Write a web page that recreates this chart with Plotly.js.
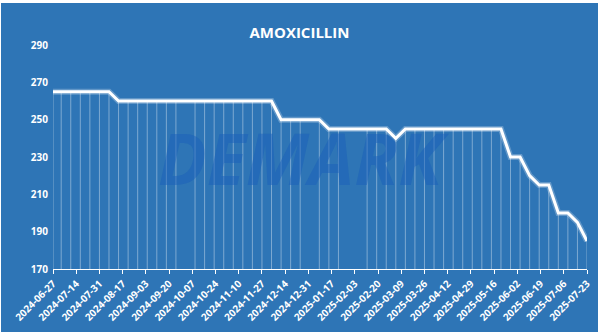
<!DOCTYPE html>
<html>
<head>
<meta charset="utf-8">
<script src="https://cdn.plot.ly/plotly-3.0.1.min.js"></script>
<style>
html,body{margin:0;padding:0;background:#ffffff;width:600px;height:334px;overflow:hidden;}
#chart{position:absolute;left:1px;top:3px;width:597px;height:329px;}
</style>
</head>
<body>
<div id="chart"></div>
<script>
const dates = [
 "2024-06-27","2024-07-03","2024-07-10","2024-07-17","2024-07-24","2024-07-31","2024-08-07",
 "2024-08-14","2024-08-21","2024-08-28","2024-09-04","2024-09-11","2024-09-18","2024-09-25",
 "2024-10-09","2024-10-16","2024-10-23","2024-10-30","2024-11-06","2024-11-13","2024-11-20",
 "2024-11-27","2024-12-04","2024-12-11","2024-12-18","2024-12-25","2025-01-08","2025-01-15",
 "2025-01-22","2025-02-12","2025-02-19","2025-02-26","2025-03-05","2025-03-12","2025-03-19",
 "2025-03-26","2025-04-02","2025-04-09","2025-04-16","2025-04-23","2025-04-30","2025-05-07",
 "2025-05-14","2025-05-21","2025-05-28","2025-06-04","2025-06-11","2025-06-18","2025-06-25",
 "2025-07-02","2025-07-09","2025-07-16","2025-07-23"
];
const prices = [
 265,265,265,265,265,265,265,
 260,260,260,260,260,260,260,
 260,260,260,260,260,260,260,
 260,260,250,250,250,250,245,
 245,245,245,245,240,245,245,
 245,245,245,245,245,245,245,
 245,245,230,230,220,215,215,
 200,200,195,185
];
const chartTitle = "AMOXICILLIN";
const yMin = 170, yMax = 290, yStep = 20;
const xStart = "2024-06-27", xEnd = "2025-07-23", tickDays = 17;

const dropTrace = {
  x: dates, y: prices, type: "scatter", mode: "markers",
  marker: {size: 0.1, color: "rgba(0,0,0,0)"},
  error_y: {type: "data", symmetric: false,
    array: prices.map(() => 0),
    arrayminus: prices.map(v => v - yMin),
    color: "rgba(255,255,255,0.38)", thickness: 1, width: 0},
  hoverinfo: "skip", showlegend: false
};
const haloTrace = {
  x: dates, y: prices, type: "scatter", mode: "lines",
  line: {color: "rgba(255,255,255,0.25)", width: 6},
  hoverinfo: "skip", showlegend: false
};
const lineTrace = {
  x: dates, y: prices, type: "scatter", mode: "lines",
  line: {color: "#ffffff", width: 3},
  showlegend: false
};

const layout = {
  width: 597, height: 329,
  paper_bgcolor: "#2E75B6", plot_bgcolor: "rgba(0,0,0,0)",
  margin: {l: 52, r: 11, t: 42, b: 63},
  title: {text: "<b>" + chartTitle + "</b>", x: 0.5, xanchor: "center", y: 0.91, yanchor: "middle",
    font: {family: "Open Sans, sans-serif", size: 15, color: "#ffffff"}},
  xaxis: {
    type: "date", range: [xStart, xEnd],
    tick0: xStart, dtick: tickDays * 86400000,
    tickformat: "%Y-%m-%d", tickangle: -45,
    tickfont: {family: "Open Sans, sans-serif", size: 10, color: "#ffffff", weight: "bold"},
    showgrid: false, zeroline: false,
    showline: true, linecolor: "#ffffff", linewidth: 1,
    ticks: "outside", ticklen: 4, tickcolor: "#ffffff", tickwidth: 1
  },
  yaxis: {
    range: [yMin, yMax], tick0: yMin, dtick: yStep,
    tickfont: {family: "Open Sans, sans-serif", size: 10, color: "#ffffff", weight: "bold"},
    showgrid: false, zeroline: false, showline: false, ticks: "",
    ticklabelstandoff: 4
  },
  annotations: [{
    text: "<b><i>DEMARK</i></b>", xref: "paper", yref: "paper", x: 0.47, y: 0.5,
    showarrow: false, font: {family: "Open Sans, sans-serif", size: 72, color: "rgba(25,95,185,0.5)"}
  }]
};

Plotly.newPlot("chart", [dropTrace, haloTrace, lineTrace], layout, {displayModeBar: false, staticPlot: true});
</script>
</body>
</html>
